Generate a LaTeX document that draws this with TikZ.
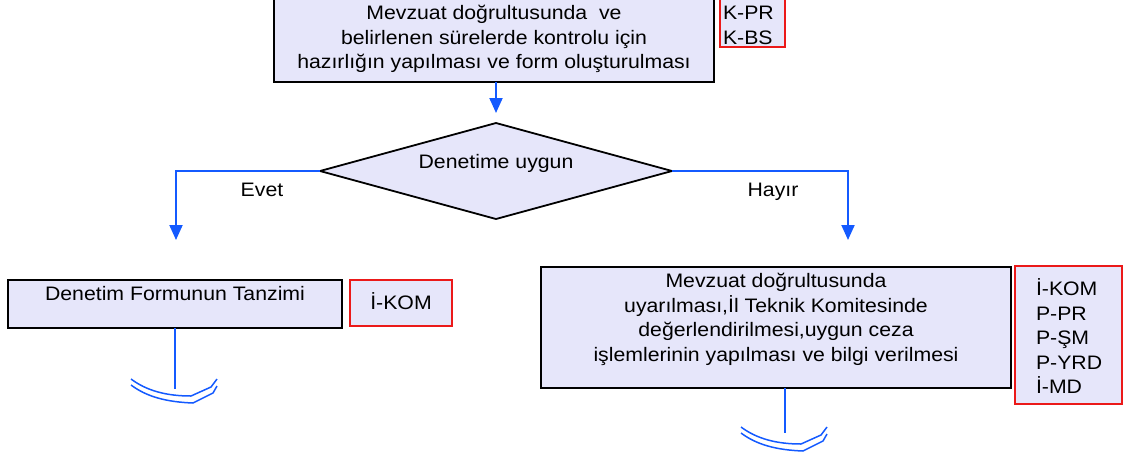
\documentclass[tikz,border=0pt]{standalone}
\usepackage{fontspec}
\setmainfont[FakeStretch=1.09]{Liberation Sans}
\usetikzlibrary{arrows.meta,shapes.geometric}
\definecolor{boxfill}{RGB}{230,230,250}
\definecolor{flowblue}{RGB}{20,90,255}
\definecolor{rolered}{RGB}{235,25,25}
\newcommand\cbody[4]{\parbox[c][#2][t]{#1}{\vspace*{#3}\centering\strut #4}}
\newcommand\lbody[5]{\parbox[c][#2][t]{#1}{\vspace*{#3}\raggedright\leftskip=#4\strut #5}}
\tikzset{
  procbox/.style={draw=black, line width=1.8pt, fill=boxfill, inner sep=0pt, outer sep=0pt},
  rolebox/.style={draw=rolered, line width=1.5pt, fill=boxfill, inner sep=0pt, outer sep=0pt},
  decision/.style={diamond, draw=black, line width=1.8pt, fill=boxfill, inner sep=0pt, outer sep=0pt,
    minimum width=352pt, minimum height=96pt, aspect=3.67},
  flow/.style={draw=flowblue, line width=2pt, -{Triangle[width=13pt,length=15pt]}},
  plainflow/.style={draw=flowblue, line width=1.6pt},
  symline/.style={draw=flowblue, line width=1.5pt},
  lbl/.style={anchor=base, inner sep=0pt},
  every node/.style={font=\fontsize{19.5}{24.4}\selectfont},
  offpage/.pic={
    \draw[symline] (-44,-10) .. controls (-28,2) and (-8,7) .. (16,7) -- (36,-2) -- (42,-10);
    \draw[symline] (-44,-4) .. controls (-28,8) and (-8,13) .. (18,14) -- (38,4) -- (42,-3);
  }
}
\begin{document}
\begin{tikzpicture}[x=1pt,y=-1pt]
\useasboundingbox (0,0) rectangle (1142,461);
% process boxes and role boxes
\node[procbox] (prep) at (494,31) {\cbody{440pt}{102pt}{22.9pt}{Mevzuat doğrultusunda\ \ ve\\belirlenen sürelerde kontrolu için\\hazırlığın yapılması ve form oluşturulması}};
\node[rolebox] (prepRoles) at (752.5,18.5) {\lbody{65pt}{57pt}{12.9pt}{3pt}{K-PR\\K-BS}};
\node[decision, text height=14pt, text depth=20pt] (check) at (496,171) {Denetime uygun};
\node[procbox] (form) at (175,304) {\cbody{334pt}{48pt}{3.9pt}{Denetim Formunun Tanzimi}};
\node[rolebox] (formRole) at (401,303) {\cbody{102pt}{46pt}{12.9pt}{İ-KOM}};
\node[procbox] (penalty) at (776,327.5) {\cbody{470pt}{121pt}{3.9pt}{Mevzuat doğrultusunda\\uyarılması,İl Teknik Komitesinde\\değerlendirilmesi,uygun ceza\\işlemlerinin yapılması ve bilgi verilmesi}};
\node[rolebox] (penaltyRoles) at (1068.5,335) {\lbody{107pt}{138pt}{12.9pt}{21pt}{İ-KOM\\P-PR\\P-ŞM\\P-YRD\\İ-MD}};
% connectors
\coordinate (yesEnd) at (176,240);
\coordinate (noEnd) at (848,240);
\coordinate (formEnd) at (175,389);
\coordinate (penEnd) at (785,433);
\draw[flow, shorten >=10pt] (prep.south -| check.north) -- (check.north);
\draw[flow] (check.west) -| (yesEnd);
\draw[flow] (check.east) -| (noEnd);
\node[lbl] (yesLbl) at (262,196) {Evet};
\node[lbl] (noLbl) at (773,196) {Hayır};
\draw[plainflow] (form.south) -- (formEnd);
\draw[plainflow] (penalty.south -| penEnd) -- (penEnd);
\pic at (175,389) {offpage};
\pic at (785,437) {offpage};
\end{tikzpicture}
\end{document}
